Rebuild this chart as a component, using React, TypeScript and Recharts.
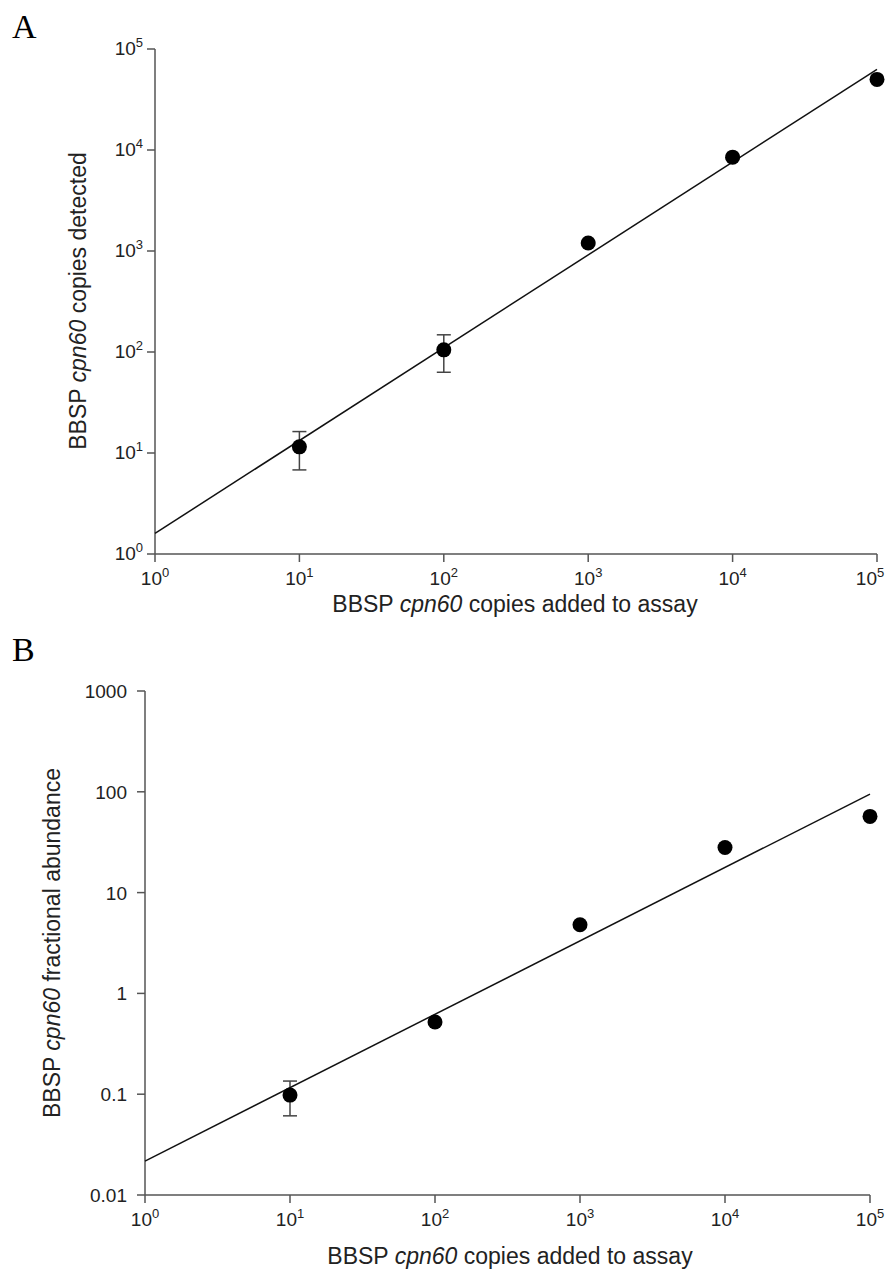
import React from "react";
import { ScatterChart, Scatter, XAxis, YAxis, ErrorBar } from "recharts";

// shared x axis: copies added to assay (log)
const xTicks = [1, 10, 100, 1000, 10000, 100000];
const copiesAdded = [10, 100, 1000, 10000, 100000];

// panel A: copies detected, error bars as [below, above]
const yTicksA = [1, 10, 100, 1000, 10000, 100000];
const detectedA = [11.5, 105, 1200, 8500, 50000];
const errLowA = [4.7, 42, 40, 300, 1500];
const errHighA = [4.8, 43, 40, 300, 1500];
const fitXA = [1, 100000];
const fitYA = [1.6, 63000];

// panel B: fractional abundance
const yTicksB = [0.01, 0.1, 1, 10, 100, 1000];
const abundanceB = [0.098, 0.52, 4.8, 28, 57];
const errLowB = [0.037, 0.015, 0.15, 0.8, 1.5];
const errHighB = [0.037, 0.015, 0.15, 0.8, 1.5];
const fitXB = [1, 100000];
const fitYB = [0.0217, 95];

const FONT = '"Liberation Sans", Arial, sans-serif';
const AXIS = "#555";

const pointsA = copiesAdded.map((x, i) => ({ x, y: detectedA[i], err: [errLowA[i], errHighA[i]] }));
const lineA = fitXA.map((x, i) => ({ x, y: fitYA[i] }));
const pointsB = copiesAdded.map((x, i) => ({ x, y: abundanceB[i], err: [errLowB[i], errHighB[i]] }));
const lineB = fitXB.map((x, i) => ({ x, y: fitYB[i] }));

const Pow10 = ({ x, y, exp, anchor }: any) => (
  <text x={x} y={y} textAnchor={anchor} fontSize={19} fill="#222" fontFamily={FONT}>
    10<tspan dy={-8} fontSize={13}>{exp}</tspan>
  </text>
);

const XPowTick = (props: any) => {
  const { x, y, payload } = props;
  return <Pow10 x={x} y={y + 21} exp={Math.round(Math.log10(payload.value))} anchor="middle" />;
};

const YPowTick = (props: any) => {
  const { x, y, payload } = props;
  return <Pow10 x={x - 2} y={y + 6} exp={Math.round(Math.log10(payload.value))} anchor="end" />;
};

const YPlainTick = (props: any) => {
  const { x, y, payload } = props;
  return (
    <text x={x - 8} y={y + 7} textAnchor="end" fontSize={19} fill="#222" fontFamily={FONT}>
      {String(payload.value)}
    </text>
  );
};

const Dot = (p: any) => <circle cx={p.cx} cy={p.cy} r={7.5} fill="#000" />;
const NoDot = () => <g />;

const title = (left: number, top: number, rotate: boolean, tail: string) => (
  <div
    style={{
      position: "absolute",
      left,
      top,
      transform: `translate(-50%, -50%)${rotate ? " rotate(-90deg)" : ""}`,
      whiteSpace: "nowrap",
      fontFamily: FONT,
      fontSize: 23,
      color: "#222",
    }}
  >
    BBSP <i>cpn60</i> {tail}
  </div>
);

const letter = (top: number, txt: string) => (
  <div style={{ position: "absolute", left: 12, top, fontFamily: '"Liberation Serif", serif', fontSize: 34, lineHeight: 1 }}>
    {txt}
  </div>
);

function Panel({ points, line, yTicks, yTick, margin, height }: any) {
  return (
    <ScatterChart width={894} height={height} margin={margin}>
      <XAxis
        type="number"
        dataKey="x"
        scale="log"
        domain={[1, 100000]}
        ticks={xTicks}
        height={30}
        tickSize={8}
        tick={<XPowTick />}
        axisLine={{ stroke: AXIS, strokeWidth: 1.5 }}
        tickLine={{ stroke: AXIS, strokeWidth: 1.5 }}
      />
      <YAxis
        type="number"
        dataKey="y"
        scale="log"
        domain={[yTicks[0], yTicks[yTicks.length - 1]]}
        ticks={yTicks}
        width={60}
        tickSize={8}
        tick={yTick}
        axisLine={{ stroke: AXIS, strokeWidth: 1.5 }}
        tickLine={{ stroke: AXIS, strokeWidth: 1.5 }}
      />
      <Scatter data={line} line={{ stroke: "#111", strokeWidth: 1.5 }} shape={<NoDot />} isAnimationActive={false} />
      <Scatter data={points} shape={<Dot />} isAnimationActive={false}>
        <ErrorBar dataKey="err" direction="y" width={7} stroke="#444" strokeWidth={1.5} />
      </Scatter>
    </ScatterChart>
  );
}

export default function App() {
  return (
    <div style={{ position: "absolute", left: 0, top: 0, width: 894, height: 1282, background: "#fff" }}>
      <div style={{ position: "absolute", left: 0, top: 0 }}>
        <Panel
          points={pointsA}
          line={lineA}
          yTicks={yTicksA}
          yTick={<YPowTick />}
          height={640}
          margin={{ top: 49, right: 17, bottom: 56, left: 95 }}
        />
      </div>
      <div style={{ position: "absolute", left: 0, top: 640 }}>
        <Panel
          points={pointsB}
          line={lineB}
          yTicks={yTicksB}
          yTick={<YPlainTick />}
          height={642}
          margin={{ top: 51, right: 24, bottom: 57, left: 85 }}
        />
      </div>
      {letter(10, "A")}
      {letter(633, "B")}
      {title(78, 301, true, "copies detected")}
      {title(515, 604, false, "copies added to assay")}
      {title(52, 943, true, "fractional abundance")}
      {title(510, 1256, false, "copies added to assay")}
    </div>
  );
}
